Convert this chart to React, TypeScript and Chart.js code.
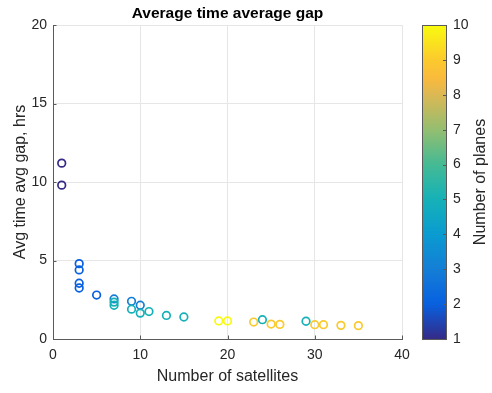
import { useEffect, useRef } from "react";
import { Chart, registerables } from "chart.js";

Chart.register(...registerables);

// ---- data ----
const satellites = [1, 1, 3, 3, 3, 3, 5, 7, 7, 7, 9, 9, 10, 10, 11, 13, 15, 19, 20, 23, 24, 25, 26, 29, 30, 31, 33, 35];
const avgGapHrs = [11.2, 9.8, 4.8, 4.4, 3.55, 3.25, 2.8, 2.55, 2.35, 2.15, 2.4, 1.9, 2.15, 1.65, 1.75, 1.5, 1.4, 1.15, 1.15, 1.08, 1.23, 0.95, 0.93, 1.13, 0.91, 0.91, 0.87, 0.85];
const planes = [1, 1, 2, 2, 2, 2, 2, 3, 5, 5, 3, 5, 3, 5, 5, 5, 5, 10, 10, 9, 5, 9, 9, 5, 9, 9, 9, 9];

const xMin = 0, xMax = 40, xStep = 10;
const yMin = 0, yMax = 20, yStep = 5;
const cMin = 1, cMax = 10, cStep = 1;

const titleText = "Average time average gap";
const xTitle = "Number of satellites";
const yTitle = "Avg time avg gap, hrs";
const cTitle = "Number of planes";

// parula-like colormap stops (t in [0,1])
const PARULA: [number, number[]][] = [
  [0.0, [53, 42, 135]],
  [0.111, [8, 96, 224]],
  [0.222, [20, 126, 214]],
  [0.333, [10, 155, 208]],
  [0.444, [22, 177, 184]],
  [0.556, [68, 186, 148]],
  [0.667, [148, 190, 112]],
  [0.778, [220, 184, 84]],
  [0.83, [250, 186, 60]],
  [0.889, [251, 202, 46]],
  [1.0, [249, 251, 14]],
];

function parula(v: number): string {
  const t = Math.max(0, Math.min(1, (v - cMin) / (cMax - cMin)));
  for (let i = 1; i < PARULA.length; i++) {
    const [t1, c1] = PARULA[i];
    const [t0, c0] = PARULA[i - 1];
    if (t <= t1) {
      const f = (t - t0) / (t1 - t0);
      const c = c0.map((a, k) => Math.round(a + (c1[k] - a) * f));
      return `rgb(${c[0]},${c[1]},${c[2]})`;
    }
  }
  const c = PARULA[PARULA.length - 1][1];
  return `rgb(${c[0]},${c[1]},${c[2]})`;
}

const FONT = "'Liberation Sans', Arial, Helvetica, sans-serif";
const AXIS_COLOR = "#5a5a5a";
const TEXT_COLOR = "#262626";

const decorPlugin = {
  id: "decor",
  afterDraw(chart: any) {
    const { ctx, chartArea } = chart;
    const xs = chart.scales.x;
    const ys = chart.scales.y;
    const cb = chart.scales.cb;
    ctx.save();
    // inward ticks
    ctx.strokeStyle = AXIS_COLOR;
    ctx.lineWidth = 1;
    const tl = 3.5;
    xs.ticks.forEach((t: any) => {
      const px = Math.round(xs.getPixelForValue(t.value)) + 0.5;
      ctx.beginPath();
      ctx.moveTo(px, chartArea.bottom);
      ctx.lineTo(px, chartArea.bottom - tl);
      ctx.stroke();
    });
    ys.ticks.forEach((t: any) => {
      const py = Math.round(ys.getPixelForValue(t.value)) + 0.5;
      ctx.beginPath();
      ctx.moveTo(chartArea.left, py);
      ctx.lineTo(chartArea.left + tl, py);
      ctx.stroke();
    });

    // colorbar
    const x0 = chartArea.right + 20;
    const w = 24;
    const yTop = cb.getPixelForValue(cMax);
    const yBot = cb.getPixelForValue(cMin);
    const grad = ctx.createLinearGradient(0, yBot, 0, yTop);
    for (let i = 0; i <= 60; i++) {
      const v = cMin + ((cMax - cMin) * i) / 60;
      grad.addColorStop(i / 60, parula(v));
    }
    ctx.fillStyle = grad;
    ctx.fillRect(x0, yTop, w, yBot - yTop);
    ctx.strokeStyle = AXIS_COLOR;
    ctx.strokeRect(x0 + 0.5, yTop + 0.5, w, yBot - yTop);
    cb.ticks.forEach((t: any) => {
      const py = Math.round(cb.getPixelForValue(t.value)) + 0.5;
      ctx.beginPath();
      ctx.moveTo(x0 + w, py);
      ctx.lineTo(x0 + w - 3, py);
      ctx.stroke();
    });
    // colorbar title
    ctx.translate(chartArea.right + 79, (yTop + yBot) / 2);
    ctx.rotate(-Math.PI / 2);
    ctx.fillStyle = TEXT_COLOR;
    ctx.font = `16px ${FONT}`;
    ctx.textAlign = "center";
    ctx.textBaseline = "middle";
    ctx.fillText(cTitle, 0, 0);
    ctx.restore();
  },
};

export default function App() {
  const ref = useRef<HTMLCanvasElement | null>(null);

  useEffect(() => {
    document.body.style.margin = "0";
    const canvas = ref.current;
    if (!canvas) return;
    const chart = new Chart(canvas, {
      type: "scatter",
      data: {
        datasets: [
          {
            data: satellites.map((s, i) => ({ x: s, y: avgGapHrs[i] })),
            pointStyle: "circle",
            pointRadius: 3.8,
            pointBorderWidth: 1.7,
            pointBackgroundColor: "rgba(0,0,0,0)",
            pointBorderColor: planes.map((p) => parula(p)),
            showLine: false,
          },
        ],
      },
      options: {
        responsive: false,
        animation: false,
        layout: { padding: 0 },
        plugins: {
          legend: { display: false },
          tooltip: { enabled: false },
          title: {
            display: true,
            text: titleText,
            fullSize: false,
            color: "#000",
            font: { family: FONT, size: 15.5, weight: "bold" },
            padding: { top: 4, bottom: 2.4 },
          },
        },
        scales: {
          x: {
            type: "linear",
            min: xMin,
            max: xMax,
            afterFit: (s: any) => { s.height = 54; },
            ticks: { stepSize: xStep, color: TEXT_COLOR, font: { family: FONT, size: 14 }, padding: 8, maxRotation: 0 },
            grid: { color: "#e6e6e6", drawTicks: false },
            border: { display: true, color: AXIS_COLOR, width: 1 },
            title: { display: true, text: xTitle, color: TEXT_COLOR, font: { family: FONT, size: 16 }, padding: { top: 0, bottom: 7 } },
          },
          y: {
            type: "linear",
            min: yMin,
            max: yMax,
            afterFit: (s: any) => { s.width = 53; },
            ticks: { stepSize: yStep, color: TEXT_COLOR, font: { family: FONT, size: 14 }, padding: 6 },
            grid: { color: "#e6e6e6", drawTicks: false },
            border: { display: true, color: AXIS_COLOR, width: 1 },
            title: { display: true, text: yTitle, color: TEXT_COLOR, font: { family: FONT, size: 16 }, padding: { top: 11, bottom: 0 } },
          },
          cb: {
            type: "linear",
            position: "right",
            min: cMin,
            max: cMax,
            afterFit: (s: any) => { s.width = 90; },
            ticks: { stepSize: cStep, color: TEXT_COLOR, font: { family: FONT, size: 14 }, padding: 0 },
            grid: { display: false, drawTicks: true, tickLength: 51 },
            border: { display: false },
          },
        },
      },
      plugins: [decorPlugin],
    } as any);
    return () => chart.destroy();
  }, []);

  return (
    <div style={{ width: 492, height: 393 }}>
      <canvas ref={ref} width={492} height={393} style={{ display: "block" }} />
    </div>
  );
}
